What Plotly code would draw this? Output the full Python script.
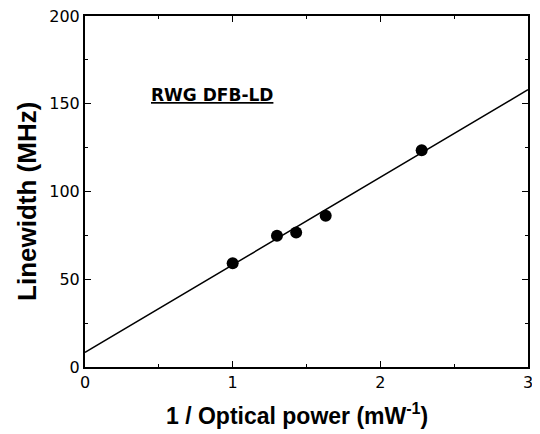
import plotly.graph_objects as go

inv_power = [1.00, 1.30, 1.43, 1.63, 2.28]
linewidth = [59.1, 74.8, 76.7, 86.2, 123.5]
fit_x = [0, 3]
fit_y = [8.3, 158.0]

fig = go.Figure()
fig.add_trace(go.Scatter(x=fit_x, y=fit_y, mode="lines",
                         line=dict(color="black", width=1.5), showlegend=False))
fig.add_trace(go.Scatter(x=inv_power, y=linewidth, mode="markers",
                         marker=dict(color="black", size=12), showlegend=False))

fig.add_annotation(x=0.43, y=155, xref="x", yref="y", text="<b><u>RWG DFB-LD</u></b>",
                   showarrow=False, xanchor="left", yanchor="middle",
                   font=dict(family="DejaVu Sans", size=17, color="black"))

# axis titles as annotations (placed slightly off-centre, as in the reference)
fig.add_annotation(x=0.4786, y=-0.134, xref="paper", yref="paper",
                   text="<b>1 / Optical power (mW<sup>-1</sup>)</b>",
                   showarrow=False, xanchor="center", yanchor="middle",
                   font=dict(family="Liberation Sans, Arial", size=23, color="black"))
fig.add_annotation(x=-0.131, y=0.473, xref="paper", yref="paper",
                   text="<b>Linewidth (MHz)</b>", textangle=-90,
                   showarrow=False, xanchor="center", yanchor="middle",
                   font=dict(family="Liberation Sans, Arial", size=26, color="black"))

tickfont = dict(family="DejaVu Sans", size=16, color="black")
axis_common = dict(showline=True, linecolor="black", linewidth=2, mirror="ticks",
                   ticks="inside", ticklen=6, tickwidth=1.2, tickcolor="black", showgrid=False,
                   zeroline=False, tickfont=tickfont, automargin=False,
                   ticklabeloverflow="allow")

fig.update_xaxes(range=[0, 3], dtick=1, tick0=0,
                 minor=dict(dtick=0.5, ticklen=3, ticks="inside", tickcolor="black"),
                 **axis_common)
fig.update_yaxes(range=[0, 200], dtick=50, tick0=0,
                 minor=dict(dtick=25, ticklen=3, ticks="inside", tickcolor="black"),
                 **axis_common)

# page body has an 8px default margin; compensate so the plot lands where the reference has it
fig.update_layout(width=532, height=426, margin=dict(l=77, r=12, t=8, b=67),
                  plot_bgcolor="white", paper_bgcolor="white")

fig.write_html("out.html")
